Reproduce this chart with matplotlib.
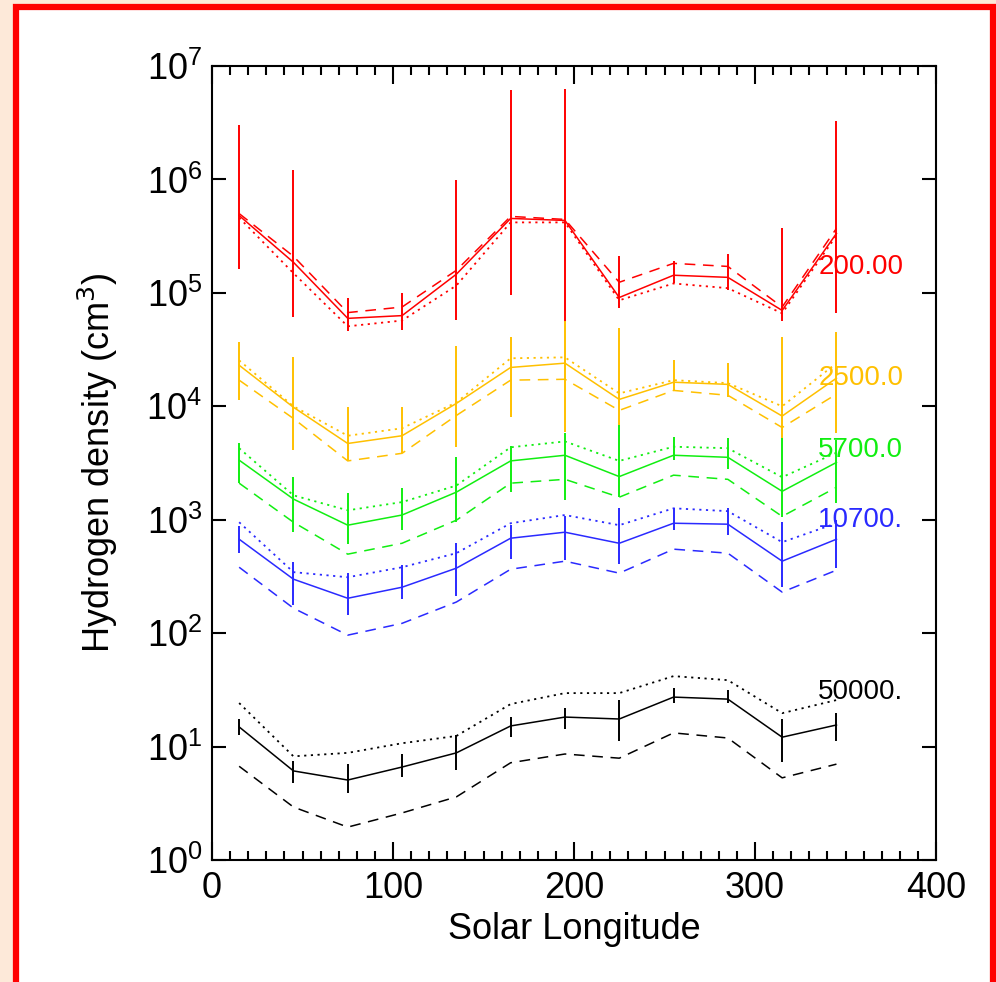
import numpy as np
import matplotlib
matplotlib.use("Agg")
import matplotlib.pyplot as plt
from matplotlib.patches import Rectangle
from matplotlib.ticker import MultipleLocator, NullLocator, FixedLocator

plt.rcParams['font.family'] = ['Liberation Sans', 'DejaVu Sans']

# solar longitude bins
lon = [15, 45, 75, 105, 135, 165, 195, 225, 255, 285, 315, 345]

# 200.00 (red)
red_mid = [4.8e5, 1.86e5, 5.96e4, 6.3e4, 1.46e5, 4.53e5, 4.35e5, 9.1e4, 1.43e5, 1.37e5, 7.0e4, 3.34e5]
red_dash = [5.0e5, 2.1e5, 6.7e4, 7.5e4, 1.58e5, 4.72e5, 4.44e5, 1.24e5, 1.82e5, 1.71e5, 7.5e4, 3.7e5]
red_dot = [4.6e5, 1.49e5, 5.07e4, 5.7e4, 1.16e5, 4.18e5, 4.18e5, 8.6e4, 1.21e5, 1.1e5, 6.6e4, 3.2e5]
red_lo = [1.61e5, 6.1e4, 4.6e4, 4.7e4, 5.8e4, 9.5e4, 5.5e4, 7.3e4, 1.21e5, 1.07e5, 5.7e4, 6.6e4]
red_hi = [3.0e6, 1.22e6, 9.1e4, 9.9e4, 9.8e5, 6.1e6, 6.3e6, 2.1e5, 1.9e5, 2.18e5, 3.7e5, 3.3e6]

# 2500.0 (yellow)
yel_mid = [2.3e4, 9.8e3, 4.7e3, 5.5e3, 1.06e4, 2.2e4, 2.4e4, 1.15e4, 1.63e4, 1.56e4, 8.2e3, 1.77e4]
yel_dash = [1.7e4, 7.8e3, 3.3e3, 3.85e3, 8.3e3, 1.7e4, 1.73e4, 9.2e3, 1.38e4, 1.25e4, 6.5e3, 1.28e4]
yel_dot = [2.54e4, 1.0e4, 5.5e3, 6.4e3, 1.08e4, 2.65e4, 2.7e4, 1.3e4, 1.7e4, 1.6e4, 1.0e4, 2.4e4]
yel_lo = [1.13e4, 4.1e3, 3.35e3, 3.85e3, 4.35e3, 8.0e3, 5.9e3, 6.8e3, 1.38e4, 1.2e4, 5.3e3, 5.8e3]
yel_hi = [3.7e4, 2.7e4, 9.8e3, 9.8e3, 3.4e4, 4.05e4, 5.7e4, 4.9e4, 2.54e4, 2.4e4, 4.05e4, 4.5e4]

# 5700.0 (green)
grn_mid = [3.35e3, 1.52e3, 895, 1.1e3, 1.75e3, 3.3e3, 3.7e3, 2.4e3, 3.7e3, 3.55e3, 1.78e3, 3.2e3]
grn_dash = [2.1e3, 950, 497, 620, 990, 2.1e3, 2.27e3, 1.58e3, 2.47e3, 2.27e3, 1.07e3, 1.93e3]
grn_dot = [4.27e3, 1.64e3, 1.21e3, 1.43e3, 2.0e3, 4.35e3, 4.9e3, 3.3e3, 4.4e3, 4.27e3, 2.37e3, 3.9e3]
grn_lo = [2.1e3, 776, 608, 808, 950, 1.75e3, 1.49e3, 1.58e3, 3.35e3, 2.79e3, 1.05e3, 1.4e3]
grn_hi = [4.7e3, 2.4e3, 1.71e3, 1.9e3, 3.55e3, 4.5e3, 5.8e3, 6.8e3, 5.4e3, 5.2e3, 5.3e3, 5.0e3]

# 10700. (blue)
blu_mid = [673, 299, 203, 254, 374, 687, 776, 620, 931, 913, 431, 673]
blu_dash = [381, 166, 96, 122, 188, 366, 431, 338, 550, 507, 230, 359]
blu_dot = [950, 345, 311, 381, 507, 931, 1.1e3, 895, 1.26e3, 1.19e3, 634, 931]
blu_lo = [507, 176, 144, 199, 212, 449, 439, 405, 808, 730, 254, 374]
blu_hi = [877, 422, 338, 397, 620, 895, 1.07e3, 1.26e3, 1.26e3, 1.26e3, 950, 990]

# 50000. (black)
blk_mid = [14.9, 6.1, 5.07, 6.6, 8.8, 15.2, 18.2, 17.5, 27.3, 26.2, 12.1, 15.5]
blk_dash = [6.7, 2.93, 1.95, 2.6, 3.6, 7.2, 8.6, 7.9, 13.2, 11.9, 5.3, 7.0]
blk_dot = [24.2, 8.2, 8.8, 10.7, 12.4, 23.7, 29.6, 29.6, 41.8, 38.5, 19.7, 25.7]
blk_lo = [12.6, 4.77, 3.9, 5.4, 6.2, 12.1, 14.3, 11.2, 24.2, 24.2, 7.3, 11.2]
blk_hi = [17.5, 7.45, 7.0, 8.6, 12.6, 18.2, 21.8, 25.7, 32.7, 31.5, 17.5, 19.7]

labels = ['200.00', '2500.0', '5700.0', '10700.', '50000.']
label_y = [1.68e5, 1.77e4, 4.1e3, 990, 30]
label_x = 335
y_ticks = [1e0, 1e1, 1e2, 1e3, 1e4, 1e5, 1e6, 1e7]

groups = [
    (red_mid, red_dash, red_dot, red_lo, red_hi, '#ff0000'),
    (yel_mid, yel_dash, yel_dot, yel_lo, yel_hi, '#ffc000'),
    (grn_mid, grn_dash, grn_dot, grn_lo, grn_hi, '#11ee11'),
    (blu_mid, blu_dash, blu_dot, blu_lo, blu_hi, '#2a2aff'),
    (blk_mid, blk_dash, blk_dot, blk_lo, blk_hi, '#000000'),
]

fig = plt.figure(figsize=(9.96, 9.82), dpi=100)
fig.patch.set_facecolor('#fde9d9')
# white panel with red frame, kept behind the axes
frame = Rectangle((16 / 996, -0.05), 977 / 996, 1.05 - 7.5 / 982,
                  transform=fig.transFigure, facecolor='white',
                  edgecolor='#ff0000', linewidth=4.5, zorder=-10)
fig.patches.append(frame)

ax = fig.add_axes([212 / 996, 1 - 860 / 982, 724 / 996, 794 / 982], zorder=5)
ax.set_facecolor('white')

x = np.array(lon)
for (mid, dash, dot, lo, hi, c), lab, ly in zip(groups, labels, label_y):
    mid = np.array(mid)
    yerr = [np.clip(mid - np.array(lo), 0, None), np.clip(np.array(hi) - mid, 0, None)]
    ax.errorbar(x, mid, yerr=yerr, color=c, lw=1.1, elinewidth=1.4, capsize=0)
    ax.plot(x, dash, color=c, lw=1.1, dashes=(7, 5))
    ax.plot(x, dot, color=c, lw=1.3, dashes=(1.2, 2.5))
    ax.text(label_x, ly, lab, color=c, fontsize=20, ha='left', va='center')

ax.set_yscale('log')
ax.set_xlim(0, 400)
ax.set_ylim(1, 1e7)
ax.xaxis.set_major_locator(MultipleLocator(100))
ax.xaxis.set_minor_locator(MultipleLocator(10))
ax.yaxis.set_major_locator(FixedLocator(y_ticks))
ax.yaxis.set_minor_locator(NullLocator())

ax.tick_params(axis='both', which='both', direction='in', top=True, right=True,
               labelsize=26, width=1.5, colors='black')
ax.tick_params(axis='x', which='major', length=13, pad=8)
ax.tick_params(axis='x', which='minor', length=6.5)
ax.tick_params(axis='y', which='major', length=10, pad=7)
for s in ax.spines.values():
    s.set_linewidth(1.5)

ax.set_xlabel('Solar Longitude', fontsize=26)
ax.set_ylabel('Hydrogen density (cm$^{3}$)', fontsize=26)
ax.xaxis.set_label_coords(0.5, -0.065)
ax.yaxis.set_label_coords(-0.127, 0.5)

fig.savefig('out.png', dpi=100, facecolor=fig.get_facecolor())
